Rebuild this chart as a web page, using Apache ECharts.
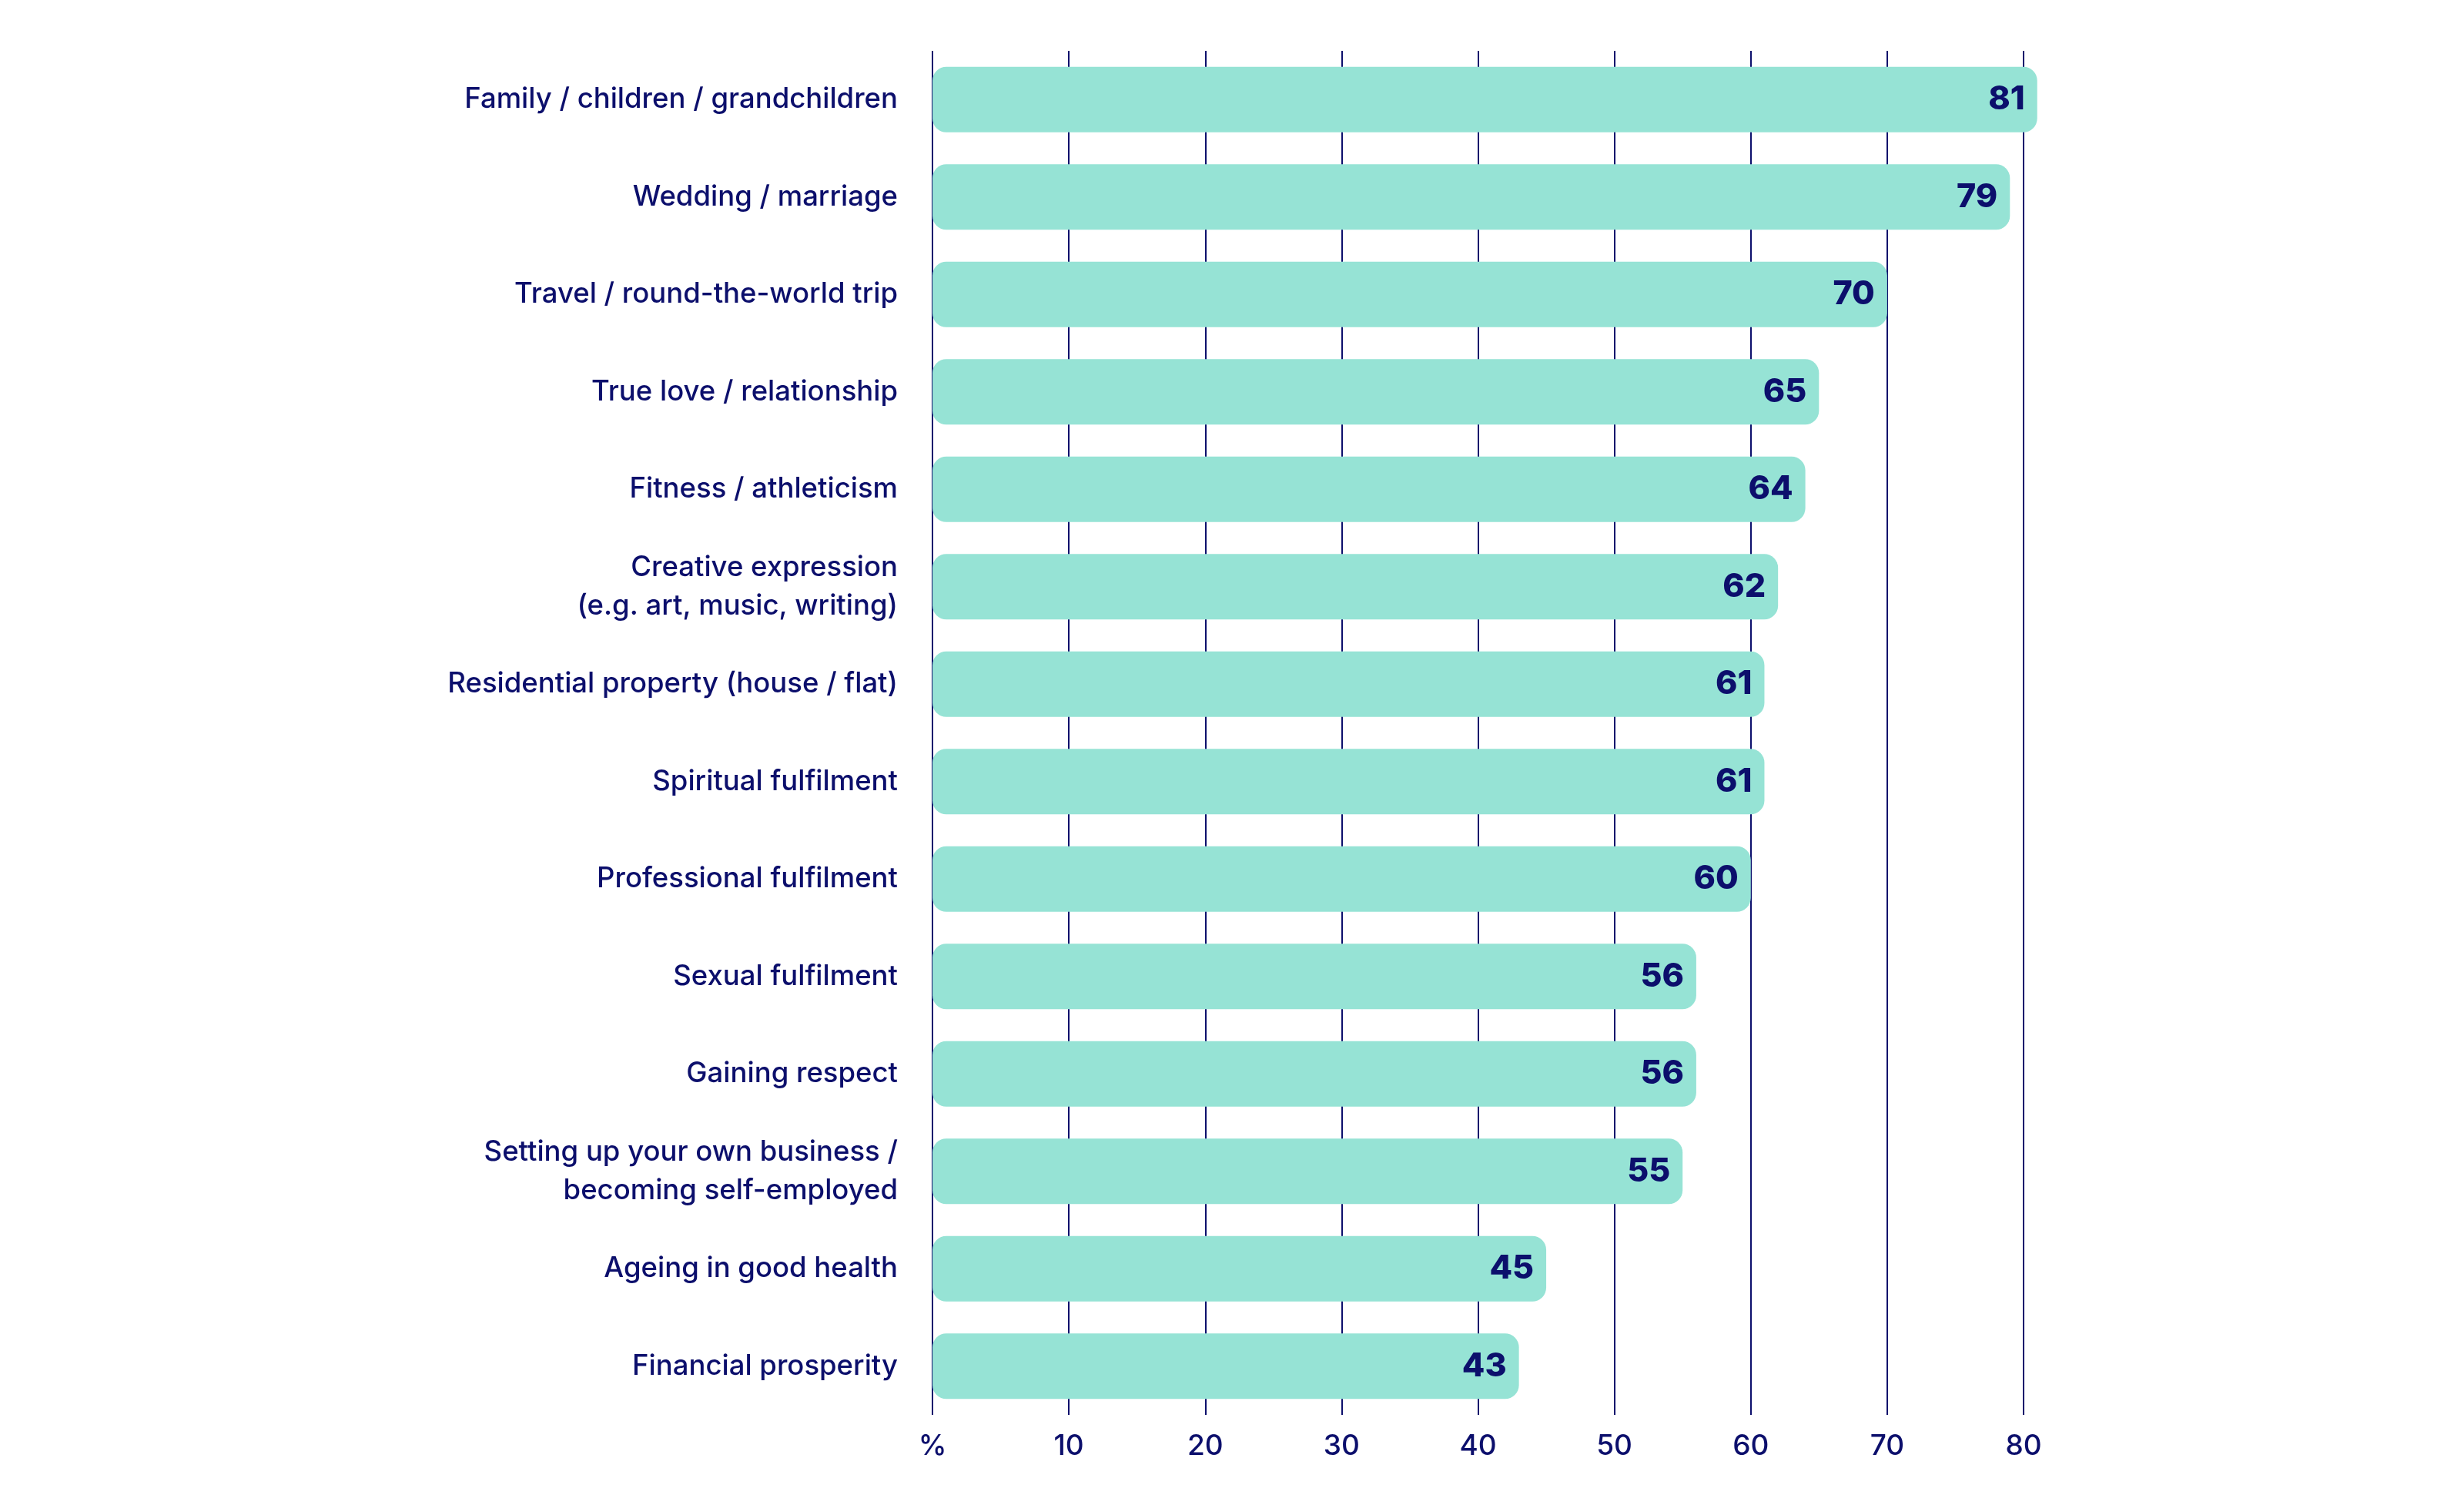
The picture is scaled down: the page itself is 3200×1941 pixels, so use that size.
<!DOCTYPE html>
<html>
<head>
<meta charset="utf-8">
<script src="https://cdn.jsdelivr.net/npm/echarts@6/dist/echarts.min.js"></script>
<style>
  html, body { margin: 0; padding: 0; background: #ffffff; }
  #chart-container { width: 3200px; height: 1941px; }
</style>
</head>
<body>
<div id="chart-container"></div>
<script>
const categories = [
  "Family / children / grandchildren",
  "Wedding / marriage",
  "Travel / round-the-world trip",
  "True love / relationship",
  "Fitness / athleticism",
  "Creative expression\n(e.g. art, music, writing)",
  "Residential property (house / flat)",
  "Spiritual fulfilment",
  "Professional fulfilment",
  "Sexual fulfilment",
  "Gaining respect",
  "Setting up your own business /\nbecoming self-employed",
  "Ageing in good health",
  "Financial prosperity"
]

const values = [81, 79, 70, 65, 64, 62, 61, 61, 60, 56, 56, 55, 45, 43]

const navy = "#0c0f6c"
const barColor = "#96e3d5"
const fontFamily = "Inter, Lato, 'Noto Sans', sans-serif"

var dom = document.getElementById("chart-container")
var myChart = echarts.init(dom, null, { renderer: "canvas" })

var option = {
  animation: false,
  grid: {
    left: 1211,
    right: 572,
    top: 66,
    bottom: 104
  },
  xAxis: {
    type: "value",
    min: 0,
    max: 80,
    interval: 10,
    axisLine: { show: false },
    axisTick: { show: false },
    splitLine: {
      show: true,
      lineStyle: { color: navy, width: 2 }
    },
    axisLabel: {
      margin: 22,
      color: navy,
      fontSize: 37,
      fontWeight: 500,
      fontFamily: fontFamily,
      formatter: (v) => (v === 0 ? "%" : String(v))
    }
  },
  yAxis: {
    type: "category",
    inverse: true,
    data: categories,
    axisLine: { show: false },
    axisTick: { show: false },
    axisLabel: {
      margin: 45,
      color: navy,
      fontSize: 36.5,
      fontWeight: 500,
      lineHeight: 50,
      fontFamily: fontFamily,
      align: "right"
    }
  },
  series: [
    {
      type: "bar",
      data: values,
      barWidth: 85,
      clip: false,
      itemStyle: {
        color: barColor,
        borderRadius: 18
      },
      label: {
        show: true,
        position: "insideRight",
        distance: 16,
        color: navy,
        fontSize: 43,
        fontWeight: 800,
        fontFamily: fontFamily
      }
    }
  ]
}

myChart.setOption(option)
window.addEventListener("resize", myChart.resize)
</script>
</body>
</html>
